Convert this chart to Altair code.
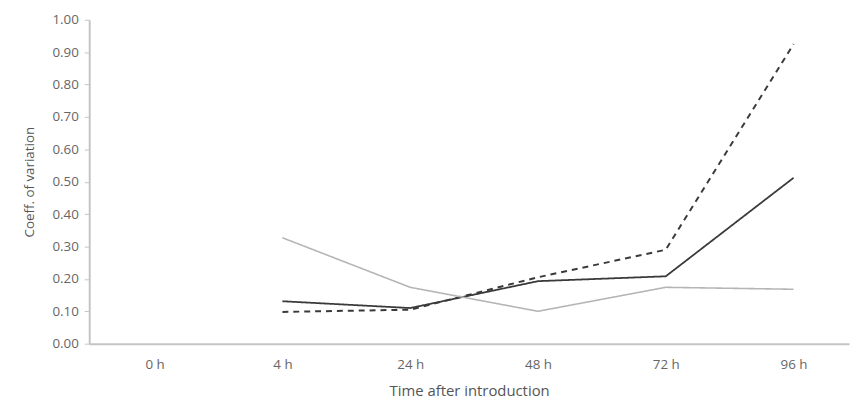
import altair as alt
import pandas as pd
import json

times = ["0 h", "4 h", "24 h", "48 h", "72 h", "96 h"]
series_names = ["Dashed", "Solid", "Light"]
dashed_vals = [None, 0.098, 0.105, 0.205, 0.29, 0.925]
solid_vals = [None, 0.131, 0.11, 0.193, 0.208, 0.512]
light_vals = [None, 0.327, 0.174, 0.10, 0.174, 0.168]

rows = []
for name, vals in zip(series_names, [dashed_vals, solid_vals, light_vals]):
    for i, v in enumerate(vals):
        if v is not None:
            rows.append({"idx": i, "time": times[i], "cv": v, "series": name})
df = pd.DataFrame(rows)

label_expr = json.dumps(times) + "[datum.value]"
font = "Open Sans"

chart = alt.Chart(df).mark_line(strokeJoin="miter").encode(
    x=alt.X("idx:Q",
            scale=alt.Scale(domain=[-0.512, 5.434], nice=False, zero=False),
            axis=alt.Axis(values=list(range(len(times))), labelExpr=label_expr,
                          title="Time after introduction", grid=False, ticks=False,
                          labelPadding=14, titlePadding=13, labelFontSize=13.5,
                          titleFontSize=15, labelFont=font, titleFont=font,
                          labelColor="#666", titleColor="#555", titleFontWeight="normal",
                          domainColor="#c4c4c4", domainWidth=2)),
    y=alt.Y("cv:Q",
            scale=alt.Scale(domain=[0, 1], nice=False),
            axis=alt.Axis(values=[i / 10 for i in range(11)], format=".2f",
                          title="Coeff. of variation", grid=False, tickSize=5,
                          tickColor="#c4c4c4", labelPadding=6, titlePadding=16,
                          labelFontSize=13.5, titleFontSize=13.5, labelFont=font,
                          titleFont=font, labelColor="#666", titleColor="#555",
                          titleFontWeight="normal", domainColor="#c4c4c4", domainWidth=2)),
    color=alt.Color("series:N", scale=alt.Scale(domain=series_names,
                    range=["#3a3a3a", "#3a3a3a", "#b5b5b5"]), legend=None),
    strokeDash=alt.StrokeDash("series:N", scale=alt.Scale(domain=series_names,
                    range=[[6, 5], [1, 0], [1, 0]]), legend=None),
    strokeWidth=alt.StrokeWidth("series:N", scale=alt.Scale(domain=series_names,
                    range=[2, 1.6, 1.4]), legend=None),
    detail="series:N",
).properties(
    width=767, height=327,
    autosize=alt.AutoSizeParams(type="none"),
    padding={"left": 82, "top": 10, "right": 1, "bottom": 56},
).configure_view(stroke=None)

chart.save("out.html", embed_options={"renderer": "svg", "actions": False})
